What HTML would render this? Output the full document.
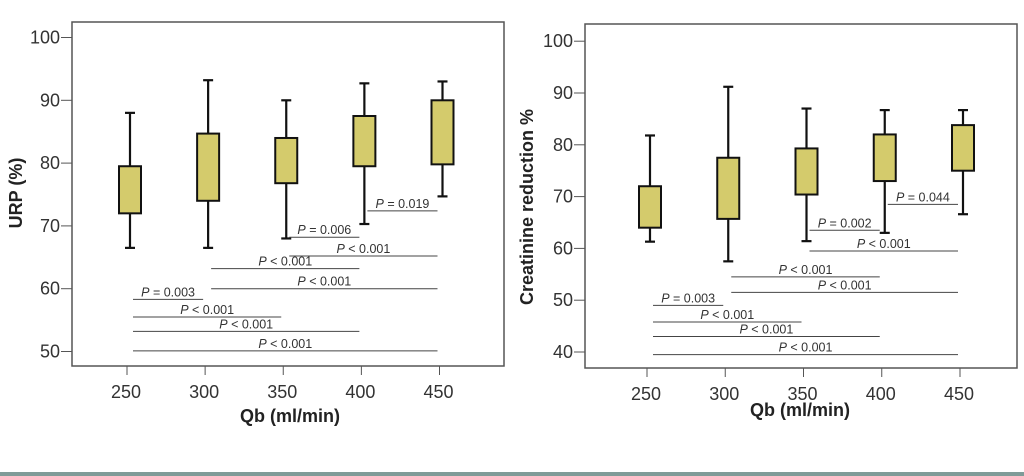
<!DOCTYPE html>
<html><head><meta charset="utf-8"><style>
html,body{margin:0;padding:0;background:#fff;width:1024px;height:476px;overflow:hidden}
svg{display:block;font-family:"Liberation Sans","DejaVu Sans",sans-serif}
</style></head><body>
<svg id="c" width="1024" height="476" viewBox="0 0 1024 476">
<rect x="0" y="472" width="1024" height="4" fill="#7f9b98"/>
</svg>
<script>
const categories=[250,300,350,400,450];
const urpQ1=[72,74,76.8,79.5,79.8];
const urpQ3=[79.5,84.7,84,87.5,90];
const urpMin=[66.5,66.5,68,70.3,74.7];
const urpMax=[88,93.2,90,92.7,93];
const urpSigFrom=[400,350,350,300,300,250,250,250,250];
const urpSigTo=[450,400,450,400,450,300,350,400,450];
const urpSigY=[72.4,68.2,65.2,63.2,60,58.3,55.5,53.2,50.1];
const urpSigLabel=["= 0.019","= 0.006","< 0.001","< 0.001","< 0.001","= 0.003","< 0.001","< 0.001","< 0.001"];
const crQ1=[64,65.7,70.4,73,75];
const crQ3=[72,77.5,79.3,82,83.8];
const crMin=[61.3,57.5,61.4,63,66.6];
const crMax=[81.8,91.2,87,86.7,86.7];
const crSigFrom=[400,350,350,300,300,250,250,250,250];
const crSigTo=[450,400,450,400,450,300,350,400,450];
const crSigY=[68.5,63.5,59.5,54.5,51.5,49,45.8,43,39.5];
const crSigLabel=["= 0.044","= 0.002","< 0.001","< 0.001","< 0.001","= 0.003","< 0.001","< 0.001","< 0.001"];
const urpTicks=[50,60,70,80,90,100];
const crTicks=[40,50,60,70,80,90,100];

const svg=document.getElementById('c');
const NS='http://www.w3.org/2000/svg';
function mk(tag,attrs,parent){const e=document.createElementNS(NS,tag);for(const k in attrs)e.setAttribute(k,attrs[k]);(parent||svg).appendChild(e);return e;}

function panel(cfg){
  const g=mk('g',{});
  
  
  const xs=v=>cfg.x0+(v-250)*cfg.xk;
  const ys=v=>cfg.y0+(v-cfg.yv0)*cfg.yk;
  const fr=mk('rect',{x:cfg.fx,y:cfg.fy,width:cfg.fw,height:cfg.fh,fill:'none',stroke:'#555','stroke-width':1.5},g);
  
  
  cfg.ticks.forEach(t=>{
    const y=ys(t);
    const l=mk('line',{x1:cfg.fx-11,x2:cfg.fx,y1:y,y2:y,stroke:'#555','stroke-width':1},g);
    
    
    const tx=mk('text',{x:cfg.fx-12,y:y+6,'text-anchor':'end','font-size':18,fill:'#333'},g);
    tx.textContent=t;
    
    
  });
  categories.forEach(c=>{
    const x=xs(c);
    const l=mk('line',{x1:x,x2:x,y1:cfg.fy+cfg.fh,y2:cfg.fy+cfg.fh+9,stroke:'#555','stroke-width':1},g);
    
    
    const tx=mk('text',{x:x-1,y:cfg.fy+cfg.fh+32,'text-anchor':'middle','font-size':18,fill:'#333'},g);
    tx.textContent=c;
    
    
  });
  categories.forEach((c,i)=>{
    const x=xs(c)+3;
    const bg=mk('g',{},g);
    
    
    mk('line',{x1:x,x2:x,y1:ys(cfg.max[i]),y2:ys(cfg.min[i]),stroke:'#111','stroke-width':2.2},bg);
    mk('line',{x1:x-5,x2:x+5,y1:ys(cfg.max[i]),y2:ys(cfg.max[i]),stroke:'#111','stroke-width':2.2},bg);
    mk('line',{x1:x-5,x2:x+5,y1:ys(cfg.min[i]),y2:ys(cfg.min[i]),stroke:'#111','stroke-width':2.2},bg);
    mk('rect',{x:x-11,y:ys(cfg.q3[i]),width:22,height:ys(cfg.q1[i])-ys(cfg.q3[i]),fill:'#d4cb6c',stroke:'#111','stroke-width':2},bg);
  });
  cfg.sf.forEach((f,i)=>{
    const x1=xs(f)+6,x2=xs(cfg.st[i])-2,y=ys(cfg.sy[i]);
    const sg=mk('g',{},g);
    
    
    mk('line',{x1:x1,x2:x2,y1:y,y2:y,stroke:'#444','stroke-width':1},sg);
    const tx=mk('text',{x:(x1+x2)/2,y:y-3,'text-anchor':'middle','font-size':12.5,fill:'#333'},sg);
    const it=mk('tspan',{'font-style':'italic'},tx);it.textContent='P';
    const rt=mk('tspan',{},tx);rt.textContent=' '+cfg.sl[i];
  });
  const yt=mk('text',{transform:`translate(${cfg.ylx},${cfg.yly}) rotate(-90)`,'text-anchor':'middle','font-size':18,'font-weight':'bold',fill:'#222'},g);
  yt.textContent=cfg.ytitle;
  
  
  const xt=mk('text',{x:cfg.xtx,y:cfg.xty,'text-anchor':'middle','font-size':18,'font-weight':'bold',fill:'#222'},g);
  xt.textContent='Qb (ml/min)';
  
  
}
panel({name:'urp-panel',fx:72,fy:22,fw:432,fh:344,x0:127,xk:1.5625,y0:351.5,yv0:50,yk:-6.28,ticks:urpTicks,
  q1:urpQ1,q3:urpQ3,min:urpMin,max:urpMax,sf:urpSigFrom,st:urpSigTo,sy:urpSigY,sl:urpSigLabel,
  ytitle:'URP (%)',ylx:22,yly:193,xtx:290,xty:422});
panel({name:'creatinine-panel',fx:585,fy:24,fw:432,fh:344,x0:647,xk:1.565,y0:352,yv0:40,yk:-5.18,ticks:crTicks,
  q1:crQ1,q3:crQ3,min:crMin,max:crMax,sf:crSigFrom,st:crSigTo,sy:crSigY,sl:crSigLabel,
  ytitle:'Creatinine reduction  %',ylx:533,yly:207,xtx:800,xty:416});
</script>
</body></html>
